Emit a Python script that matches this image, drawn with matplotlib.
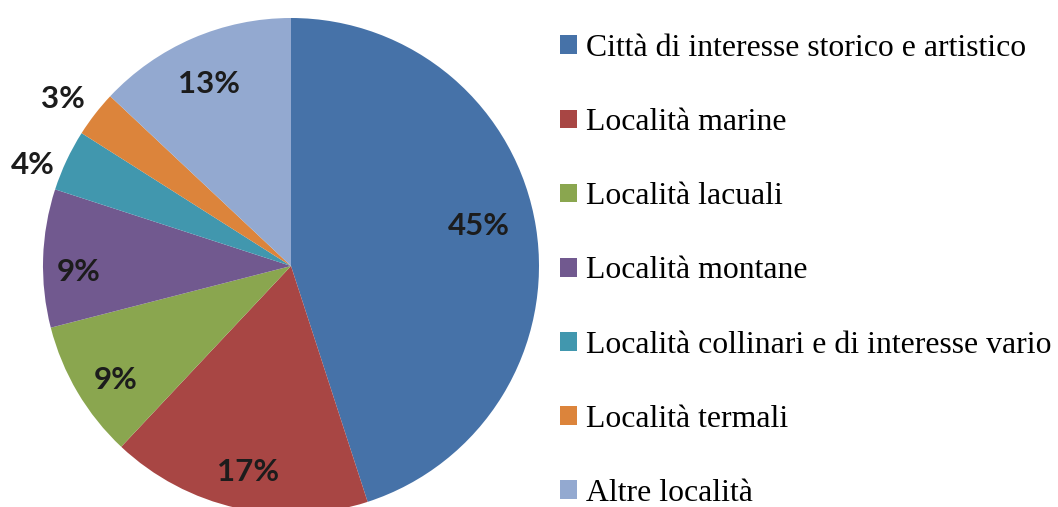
import matplotlib
matplotlib.use("Agg")
import matplotlib.pyplot as plt
import matplotlib.transforms as mtransforms
import numpy as np
from matplotlib.patches import Patch

categories = [
    "Città di interesse storico e artistico",
    "Località marine",
    "Località lacuali",
    "Località montane",
    "Località collinari e di interesse vario",
    "Località termali",
    "Altre località",
]
values = [45, 17, 9, 9, 4, 3, 13]
colors = ["#4672a8", "#a84644", "#8aa64f", "#71598f", "#4197ae", "#dc843b", "#93a9d0"]
# label placement style: radial distance and small angular nudge (deg)
label_dist = [0.773, 0.842, 0.841, 0.859, 1.124, 1.148, 0.813]
label_nudge = [3.7, 0.4, 1.9, 2.9, 3.5, 1.4, 0.9]

fig = plt.figure(figsize=(10.58, 5.07), dpi=100)
W, H = 1058, 507
cx, cy, r = 291, 266, 248
ax = fig.add_axes([(cx - r) / W, (H - cy - r) / H, 2 * r / W, 2 * r / H])
wedges, _ = ax.pie(values, colors=colors, startangle=90, counterclock=False,
                   radius=1.0, wedgeprops=dict(linewidth=0))
ax.set_xlim(-1, 1)
ax.set_ylim(-1, 1)
ax.set_aspect("equal")
ax.axis("off")

shift = ax.transData + mtransforms.ScaledTranslation(1 / 100, -2 / 100, fig.dpi_scale_trans)
for w, v, d, n in zip(wedges, values, label_dist, label_nudge):
    ang = np.deg2rad((w.theta1 + w.theta2) / 2 + n)
    ax.text(d * np.cos(ang), d * np.sin(ang), f"{v}%", ha="center", va="center",
            fontsize=22.5, fontweight="bold", family="Lato", color="#1c1c1c",
            transform=shift)

handles = [Patch(facecolor=c, edgecolor="none") for c in colors]
fig.legend(handles, categories, loc="upper left", bbox_to_anchor=(560 / W, 1 - 34 / H),
           frameon=False, prop=dict(family="Liberation Serif", size=22.9),
           handlelength=0.53, handleheight=0.53, handletextpad=0.3,
           labelspacing=1.42, borderpad=0, borderaxespad=0)

fig.savefig("out.png", dpi=100)
